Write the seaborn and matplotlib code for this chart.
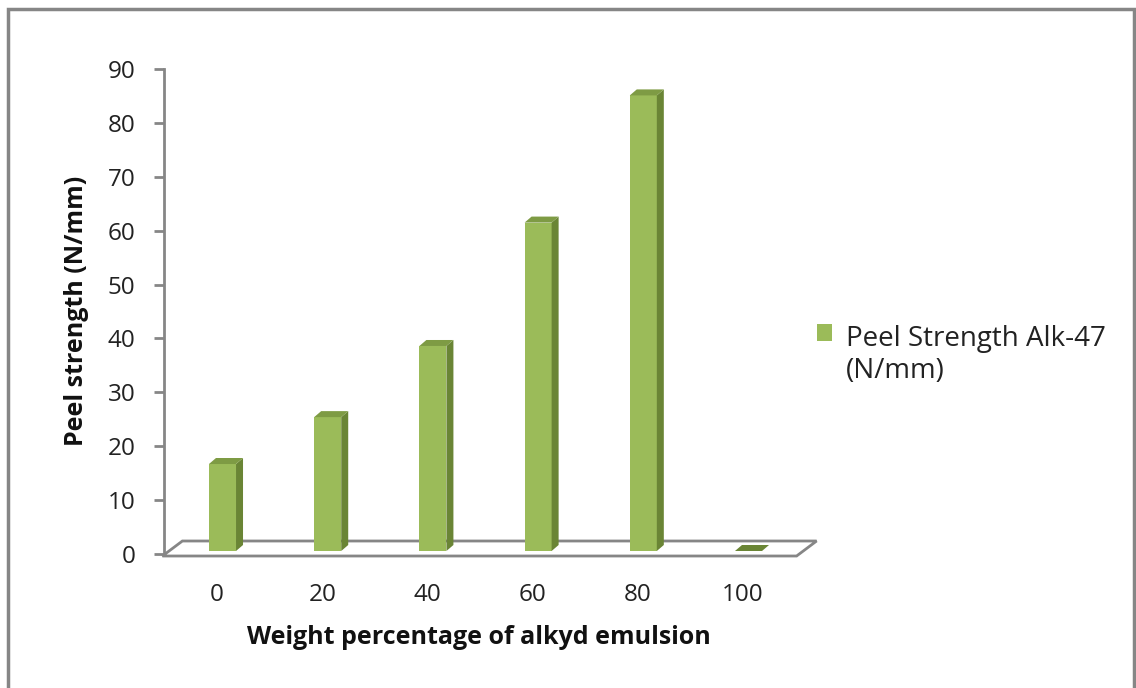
import matplotlib
matplotlib.use("Agg")
import matplotlib.pyplot as plt
import seaborn as sns
import pandas as pd
from matplotlib.patches import Polygon, Rectangle
from matplotlib.legend_handler import HandlerPatch

categories = ["0", "20", "40", "60", "80", "100"]
peel_strength = [16.7, 25.4, 38.6, 61.5, 85.1, 0.0]
series_name = "Peel Strength Alk-47\n(N/mm)"
y_ticks = [0, 10, 20, 30, 40, 50, 60, 70, 80, 90]

front_col = "#9BBB59"
side_col = "#6A8535"
top_col = "#7E9B44"
grey = "#868686"

sns.set_theme(style="white")
plt.rcParams["font.family"] = ["Open Sans", "DejaVu Sans"]

W, H = 1136, 688
fig = plt.figure(figsize=(W / 100, H / 100), dpi=100)
ax = fig.add_axes([164.4 / W, (H - 554) / H, (795.6 - 164.4) / W, (554 - 69) / H])

df = pd.DataFrame({"cat": categories, "val": peel_strength})
sns.barplot(data=df, x="cat", y="val", ax=ax, color=front_col, saturation=1,
            width=0.257, edgecolor="none", zorder=3)

ax.set_xlim(-0.5, 5.5)
ax.set_ylim(0, 90)
ax.set_yticks(y_ticks)

# pixel scales for the fake 3D depth
px_x = 1 / 105.2
px_y = 90 / (554 - 69)
dx, dy = 7 * px_x, 6 * px_y

for p in ax.patches:
    x0 = p.get_x() + 5.5 * px_x
    p.set_x(x0)
    w = p.get_width()
    h = p.get_height()
    y0 = 3 * px_y
    p.set_y(y0)
    if h <= 0:
        p.set_visible(False)
        ax.add_patch(Polygon([(x0, y0), (x0 + w, y0), (x0 + w + dx, y0 + dy), (x0 + dx, y0 + dy)],
                             closed=True, facecolor=side_col, edgecolor="none", zorder=3))
        continue
    p.set_height(h - y0)
    top = h
    ax.add_patch(Polygon([(x0 + w, y0), (x0 + w + dx, y0 + dy), (x0 + w + dx, top + dy), (x0 + w, top)],
                         closed=True, facecolor=side_col, edgecolor="none", zorder=3))
    ax.add_patch(Polygon([(x0, top), (x0 + w, top), (x0 + w + dx, top + dy), (x0 + dx, top + dy)],
                         closed=True, facecolor=top_col, edgecolor="none", zorder=3))

# floor
xl, xr = ax.get_xlim()
fy0 = -2 * px_y
fy1 = fy0 + 15 * px_y
fdx = 20 * px_x
floor = Polygon([(xl - 2 * px_x, fy0), (xr + 1 * px_x, fy0), (xr + 1 * px_x + fdx, fy1), (xl - 2 * px_x + fdx, fy1)],
                closed=True, facecolor="white", edgecolor=grey, linewidth=2, zorder=2, clip_on=False)
ax.add_patch(floor)

for s in ["top", "right", "bottom"]:
    ax.spines[s].set_visible(False)
ax.spines["left"].set_color(grey)
ax.spines["left"].set_linewidth(2)
ax.tick_params(axis="y", which="both", left=True, length=7, width=2, color=grey,
               labelsize=17.5, labelcolor="#222222", pad=14, direction="out")
ax.tick_params(axis="x", bottom=False, labelsize=17.5, labelcolor="#222222", pad=15)

ax.set_xlabel("Weight percentage of alkyd emulsion", fontsize=18, fontweight="bold",
              color="#111111", va="center")
ax.xaxis.set_label_coords((479 - 164.4) / (795.6 - 164.4), (554 - 638) / 485)
ax.set_ylabel("Peel strength (N/mm)", fontsize=18, fontweight="bold", color="#111111", va="center")
ax.yaxis.set_label_coords((77 - 164.4) / (795.6 - 164.4), (554 - 311) / 485)
ax.patch.set_alpha(0)


def raised_square(legend, orig_handle, xdescent, ydescent, width, height, fontsize):
    # square aligned with the first line of the two-line label
    return Rectangle((-xdescent, -ydescent + 16.5), width, height)


handle = Rectangle((0, 0), 1, 1, facecolor=front_col, edgecolor="none")
fig.legend([handle], [series_name], loc="upper left", bbox_to_anchor=(792 / W, 1 - 300 / H),
           frameon=False, fontsize=20, handlelength=0.55, handleheight=0.55, handletextpad=0.5,
           labelcolor="#222222", handler_map={Rectangle: HandlerPatch(patch_func=raised_square)})

# outer chart frame
fig.add_artist(Rectangle((8 / W, -0.01), (1134 - 8) / W, 1 - 9 / H + 0.01, transform=fig.transFigure,
                         facecolor="none", edgecolor=grey, linewidth=2.5))

fig.savefig("out.png", dpi=100)
